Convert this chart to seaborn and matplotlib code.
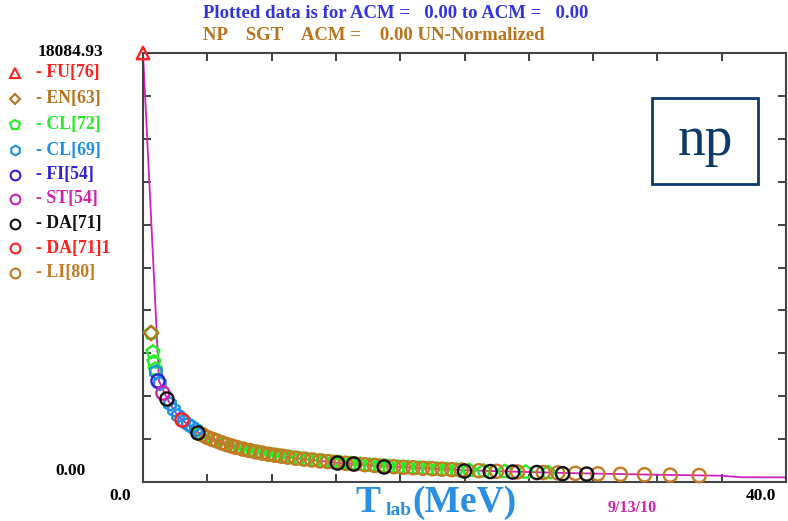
import matplotlib
matplotlib.use("Agg")
import matplotlib.pyplot as plt
import seaborn as sns
import pandas as pd
from matplotlib.lines import Line2D
from matplotlib.patches import Rectangle

sns.set_style("white")
plt.rcParams["font.family"] = ["Liberation Serif", "DejaVu Serif"]

# ---- data: np total cross section (mb) vs T_lab (MeV) ----
SIGMA_MAX = 18084.93
T_MAX = 40.0

curve_t = [0.0, 1.0, 1.5, 2.0, 2.5, 3.0, 3.5, 4.0, 5.0, 6.0, 7.0, 8.0, 9.0, 10.0,
           12.0, 14.0, 16.0, 18.0, 20.0, 22.0, 24.0, 26.0, 28.0, 30.0, 32.0,
           34.0, 36.0, 37.2, 40.0]
curve_sigma = [18084.93, 4250, 3520, 2950, 2580, 2290, 2060, 1880, 1620, 1420,
               1270, 1150, 1050, 965, 815, 710, 630, 560, 500, 455, 420, 385,
               355, 330, 305, 285, 265, 200, 195]

fu76_t = [0.0]
fu76_sigma = [18084.93]

en63_t = [0.50]
en63_sigma = [6281]

cl72_t = [0.50, 0.62, 0.68, 0.76, 3.5, 3.9, 4.5, 5.0, 5.6, 6.0, 6.4, 6.8, 7.2,
          7.6, 8.0, 8.4, 8.8, 9.2, 9.7, 10.2, 10.7, 11.2, 11.8, 12.3, 12.9,
          13.5, 14.1, 14.7, 15.3, 15.9, 16.5, 17.1, 17.7, 18.3, 18.9, 19.5,
          20.3, 21.2, 22.5, 23.8, 25.2]
cl72_sigma = [6281, 5480, 5060, 4760, 2060, 1920, 1750, 1620, 1500, 1420, 1360,
              1300, 1245, 1195, 1150, 1110, 1070, 1030, 990, 950, 915, 880, 840,
              810, 775, 745, 715, 685, 655, 630, 610, 590, 570, 550, 530, 510,
              490, 465, 440, 420, 395]

cl69_t = [0.81, 1.05, 1.68, 1.93, 2.18, 2.55, 2.80, 3.05, 3.30]
cl69_sigma = [4640, 4150, 3290, 3040, 2800, 2560, 2430, 2320, 2200]

fi54_t = [0.93]
fi54_sigma = [4258]

st54_t = [1.24]
st54_sigma = [3752]

da71_t = [1.49, 3.42, 12.1, 13.1, 15.0, 20.0, 21.6, 23.0, 24.5, 26.1, 27.6]
da71_sigma = [3499, 2066, 800, 760, 632, 464, 440, 420, 400, 350, 335]

da711_t = [2.43]
da711_sigma = [2614]

li80_t = [3.7, 4.0, 4.3, 4.6, 4.9, 5.2, 5.5, 5.8, 6.2, 6.6, 7.0, 7.4, 7.8, 8.2,
          8.6, 9.0, 9.5, 10.0, 10.5, 11.0, 11.5, 12.0, 12.6, 13.2, 13.8, 14.4,
          15.0, 15.6, 16.2, 16.8, 17.4, 18.0, 18.6, 19.2, 19.8, 20.9, 22.0,
          23.3, 24.9, 25.8, 26.9, 28.3, 29.7, 31.2, 32.8, 34.6]
li80_sigma = [1990, 1880, 1800, 1730, 1650, 1580, 1520, 1460, 1390, 1330, 1270,
              1220, 1170, 1130, 1090, 1050, 1005, 965, 930, 890, 860, 825, 790,
              760, 730, 700, 670, 645, 620, 600, 580, 560, 540, 520, 500, 475,
              450, 425, 400, 385, 365, 345, 325, 305, 290, 270]

# (label, t, sigma, marker, colour, size)
datasets = [
    ("- FU[76]", fu76_t, fu76_sigma, "^", "#FF2020", 80),
    ("- EN[63]", en63_t, en63_sigma, "D", "#B8731F", 55),
    ("- CL[72]", cl72_t, cl72_sigma, "p", "#22EE22", 95),
    ("- CL[69]", cl69_t, cl69_sigma, "h", "#1E8FE8", 90),
    ("- FI[54]", fi54_t, fi54_sigma, "o", "#3020D8", 90),
    ("- ST[54]", st54_t, st54_sigma, "o", "#D020B0", 90),
    ("- DA[71]", da71_t, da71_sigma, "o", "#111111", 90),
    ("- DA[71]1", da711_t, da711_sigma, "o", "#FF2020", 90),
    ("- LI[80]", li80_t, li80_sigma, "o", "#C47A22", 90),
]

W, H = 788, 521
fig = plt.figure(figsize=(W / 100, H / 100), dpi=100)
ax = fig.add_axes([143 / W, 1 - 482 / H, (786 - 143) / W, (482 - 53) / H])

curve = pd.DataFrame({"T": curve_t, "sigma": curve_sigma})
sns.lineplot(data=curve, x="T", y="sigma", ax=ax, color="#D020C0",
             linewidth=1.3, zorder=2, estimator=None, sort=False)

# draw order: later sets on top
order = [2, 8, 1, 3, 4, 5, 6, 7, 0]
for i in order:
    label, t, s, mk, col, size = datasets[i]
    df = pd.DataFrame({"T": t, "sigma": s})
    sns.scatterplot(data=df, x="T", y="sigma", ax=ax, marker=mk, s=size,
                    color=col, facecolor="none", edgecolor=col,
                    linewidth=1.7, zorder=3, clip_on=False)

ax.set_xlim(0, T_MAX)
ax.set_ylim(0, SIGMA_MAX)
ax.set_xticks([4 * k for k in range(11)])
ax.set_yticks([SIGMA_MAX * k / 10 for k in range(11)])
ax.tick_params(direction="in", length=6, width=1.3, color="#333333",
               top=True, right=True, bottom=True, left=True,
               labelbottom=False, labelleft=False)
ax.set_xlabel("")
ax.set_ylabel("")
for sp in ax.spines.values():
    sp.set_color("#444444")
    sp.set_linewidth(1.5)

# axis end values
bold = dict(fontweight="bold", color="black", fontsize=12.5)
fig.text(70 / W, 1 - 52 / H, "18084.93", ha="center", va="center", **bold)
fig.text(71 / W, 1 - 471 / H, "0.00", ha="center", va="center", **bold)
fig.text(120 / W, 1 - 496 / H, "0.0", ha="center", va="center", **bold)
fig.text(761 / W, 1 - 496 / H, "40.0", ha="center", va="center", **bold)

# titles
fig.text(203 / W, 1 - 14 / H, "Plotted data is for ACM =   0.00 to ACM =   0.00",
         ha="left", va="center", fontweight="bold", color="#3333E0", fontsize=13.5)
fig.text(203 / W, 1 - 36 / H, "NP    SGT    ACM =    0.00 UN-Normalized",
         ha="left", va="center", fontweight="bold", color="#B8741A", fontsize=13.5)

# x label
lab_col = "#2A8FE0"
fig.text(355 / W, 1 - 512 / H, "T", ha="left", va="baseline",
         fontweight="bold", color=lab_col, fontsize=27)
fig.text(386 / W, 1 - 515 / H, "lab", ha="left", va="baseline",
         fontweight="bold", color=lab_col, fontsize=14)
fig.text(412 / W, 1 - 512 / H, "(MeV)", ha="left", va="baseline",
         fontweight="bold", color=lab_col, fontsize=27)
fig.text(632 / W, 1 - 508 / H, "9/13/10", ha="center", va="center",
         fontweight="bold", color="#CC22AA", fontsize=11.5)

# np box
fig.add_artist(Rectangle((652 / W, 1 - 184 / H), (758 - 652) / W, (184 - 98) / H,
                         transform=fig.transFigure, fill=False,
                         edgecolor="#0D3A6B", linewidth=2))
fig.text(705 / W, 1 - 141 / H, "np", ha="center", va="center",
         color="#0D3A6B", fontsize=40)

# legend column
leg_y = [73, 99, 125, 150, 175, 199, 224, 248, 273]
for (label, t, s, mk, col, size), py in zip(datasets, leg_y):
    ms = 7 if mk != "D" else 5.5
    fig.add_artist(Line2D([15 / W], [1 - py / H], marker=mk, markersize=ms,
                          markerfacecolor="none", markeredgecolor=col,
                          markeredgewidth=1.5, linestyle="none",
                          transform=fig.transFigure))
    fig.text(36 / W, 1 - py / H, label, ha="left", va="center",
             fontweight="bold", color=col, fontsize=12.8)

fig.savefig("out.png", dpi=100)
